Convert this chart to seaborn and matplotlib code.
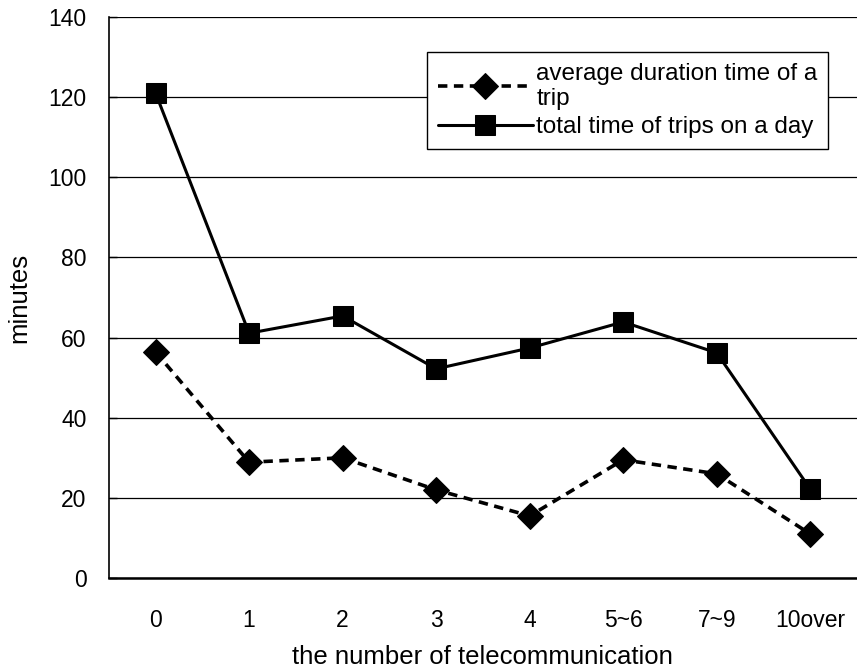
import matplotlib
matplotlib.use('Agg')
import matplotlib.pyplot as plt
import numpy as np
import pandas as pd
import seaborn as sns

# Chart data
categories = ['0', '1', '2', '3', '4', '5~6', '7~9', '10over']
avg_trip = [56.4, 28.9, 30.0, 22.0, 15.5, 29.5, 26.0, 11.0]
total_day = [121.0, 61.1, 65.4, 52.2, 57.4, 63.9, 56.2, 22.2]
y_ticks = [0, 20, 40, 60, 80, 100, 120, 140]

sns.set_theme(style='white')
plt.rcParams['font.family'] = ['Liberation Sans', 'DejaVu Sans']
plt.rcParams['text.color'] = 'black'
plt.rcParams['axes.labelcolor'] = 'black'
plt.rcParams['xtick.color'] = 'black'
plt.rcParams['ytick.color'] = 'black'

df = pd.DataFrame({'category': categories, 'avg': avg_trip, 'total': total_day})
df['pos'] = np.arange(len(categories))

fig = plt.figure(figsize=(8.57, 6.71), dpi=100)
ax = fig.add_axes([0.127, 0.1386, 0.873, 0.836])

# Dashed line with diamonds
sns.lineplot(data=df, x='pos', y='avg', ax=ax, color='black', linewidth=2.6,
             marker='D', markersize=13, markeredgecolor='black',
             dashes=False, label='average duration time of a\ntrip')
ax.lines[-1].set_dashes((2.6, 1.8))

# Solid line with squares
sns.lineplot(data=df, x='pos', y='total', ax=ax, color='black', linewidth=2.2,
             marker='s', markersize=14, markeredgecolor='black',
             label='total time of trips on a day')

ax.set_xlim(-0.5, 7.5)
ax.set_ylim(0, 140)
ax.set_yticks(y_ticks)
ax.yaxis.grid(True, color='black', linewidth=0.9)
ax.set_axisbelow(True)

ax.set_xticks(df['pos'])
ax.set_xticklabels(categories)
ax.set_xticks(np.arange(0.5, 7, 1), minor=True)
ax.tick_params(axis='x', which='major', length=0, pad=22, labelsize=16.5)
ax.tick_params(axis='x', which='minor', direction='in', length=6, width=1, color='black')
ax.tick_params(axis='y', direction='in', length=6, width=1, color='black', pad=16, labelsize=16.5, left=True)

for side in ['top', 'right']:
    ax.spines[side].set_visible(False)
ax.spines['left'].set_color('black')
ax.spines['left'].set_linewidth(1.2)
ax.spines['bottom'].set_color('black')
ax.spines['bottom'].set_linewidth(1.8)

ax.set_xlabel('the number of telecommunication', fontsize=18.5, labelpad=10)
ax.set_ylabel('minutes', fontsize=18.5, labelpad=12)

leg = ax.legend(loc='upper left', bbox_to_anchor=(0.425, 0.938), fontsize=17.5,
                frameon=True, fancybox=False, framealpha=1, edgecolor='black',
                handlelength=3.9, handletextpad=0.15, borderpad=0.45, labelspacing=0.25,
                borderaxespad=0)
leg.get_frame().set_linewidth(1.0)

fig.savefig('out.png', dpi=100)
